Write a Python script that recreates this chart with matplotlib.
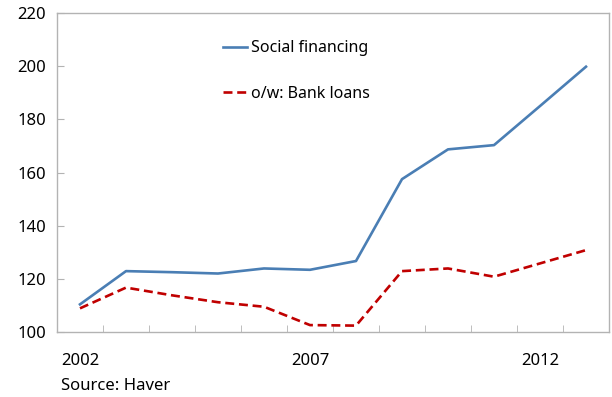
import numpy as np
import matplotlib
matplotlib.use("Agg")
import matplotlib.pyplot as plt

plt.rcParams['font.family'] = ['Noto Sans', 'DejaVu Sans']

# data
years = [2002, 2003, 2004, 2005, 2006, 2007, 2008, 2009, 2010, 2011, 2012, 2013]
social_financing = [110.4, 122.9, 122.5, 122.0, 123.9, 123.4, 126.7, 157.5, 168.7, 170.3, 185.0, 199.8]
bank_loans = [108.9, 116.7, 113.8, 111.2, 109.5, 102.6, 102.4, 122.9, 123.9, 120.8, 125.8, 130.8]
xlabels = ['2002', '2007', '2012']

fig = plt.figure(figsize=(6.12, 3.97), dpi=100)
ax = fig.add_axes([57/612, 65/397, 552/612, 319/397])

x = np.arange(len(years))
ax.plot(x, social_financing, color='#4a7eb4', lw=1.9, label='Social financing')
ax.plot(x, bank_loans, color='#c00000', lw=1.9, dashes=(3.4, 1.8), label='o/w: Bank loans')

ax.set_xlim(-0.5, len(years) - 0.5)
ax.set_ylim(100, 220)
ax.set_yticks(np.arange(100, 221, 20))

# category labels every 5 years, tick marks between categories
ax.set_xticks([years.index(int(s)) for s in xlabels])
ax.set_xticklabels(xlabels)
ax.set_xticks(np.arange(0.5, len(years) - 1, 1), minor=True)
ax.tick_params(axis='x', which='major', length=0, pad=15, labelsize=12)
ax.tick_params(axis='x', which='minor', direction='in', length=5, color='#b3b3b3')
ax.tick_params(axis='y', direction='in', length=5, color='#b3b3b3', labelsize=12, pad=8)

for s in ax.spines.values():
    s.set_color('#b3b3b3')
    s.set_linewidth(1.0)

ax.legend(loc='upper left', bbox_to_anchor=(0.30, 0.915), frameon=False, fontsize=11.5,
          handlelength=1.55, handletextpad=0.2, labelspacing=1.85, borderpad=0, borderaxespad=0)

fig.text(61/612, 1 - 386/397, 'Source: Haver', fontsize=12, va='center', ha='left')

fig.savefig('out.png', dpi=100)
